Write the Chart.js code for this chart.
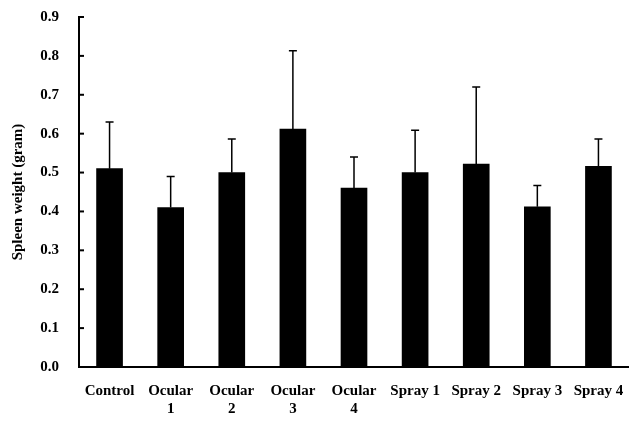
<!DOCTYPE html>
<html>
<head>
<meta charset="utf-8">
<script src="https://cdn.jsdelivr.net/npm/chart.js@4/dist/chart.umd.min.js"></script>
<style>
  html, body { margin: 0; padding: 0; background: #fff; }
  #wrap { width: 629px; height: 421px; position: relative; }
</style>
</head>
<body>
<div id="wrap"><canvas id="myChart"></canvas></div>
<script>
// Spleen weight per group, mean and mean + SD
const groups = [
  'Control', ['Ocular', '1'], ['Ocular', '2'], ['Ocular', '3'], ['Ocular', '4'],
  'Spray 1', 'Spray 2', 'Spray 3', 'Spray 4'
];
const meanWeight = [0.51, 0.41, 0.50, 0.612, 0.46, 0.50, 0.522, 0.412, 0.516];
const upperError = [0.63, 0.49, 0.586, 0.813, 0.54, 0.609, 0.72, 0.467, 0.586];
const yTicks = [0, 0.1, 0.2, 0.3, 0.4, 0.5, 0.6, 0.7, 0.8, 0.9];

const serif = 'Liberation Serif, Times New Roman, serif';

// error bars (upper whisker only) + small inward ticks on the y axis
const extras = {
  id: 'extras',
  afterDatasetsDraw(chart) {
    const c = chart.ctx;
    const y = chart.scales.y;
    const bars = chart.getDatasetMeta(0).data;
    c.save();
    c.strokeStyle = '#000';
    c.lineWidth = 1.5;
    bars.forEach((bar, i) => {
      const yTop = y.getPixelForValue(upperError[i]);
      const yBar = y.getPixelForValue(meanWeight[i]);
      c.beginPath();
      c.moveTo(bar.x, yBar);
      c.lineTo(bar.x, yTop);
      c.moveTo(bar.x - 4, yTop);
      c.lineTo(bar.x + 4, yTop);
      c.stroke();
    });
    c.lineWidth = 2;
    const left = chart.chartArea.left;
    yTicks.forEach(v => {
      const py = y.getPixelForValue(v);
      c.beginPath();
      c.moveTo(left, py);
      c.lineTo(left + 5, py);
      c.stroke();
    });
    c.restore();
  }
};

const config = {
  type: 'bar',
  data: {
    labels: groups,
    datasets: [
      {
        data: meanWeight,
        backgroundColor: '#000',
        barThickness: 26
      }
    ]
  },
  options: {
    responsive: true,
    maintainAspectRatio: false,
    animation: false,
    layout: { padding: { top: 17, right: 0, left: 0, bottom: 0 } },
    plugins: {
      legend: { display: false },
      tooltip: { enabled: false }
    },
    scales: {
      x: {
        grid: { display: false, drawTicks: false },
        border: { display: true, color: '#000', width: 2 },
        ticks: {
          color: '#000',
          padding: 15,
          maxRotation: 0,
          autoSkip: false,
          font: { family: serif, size: 15, weight: 'bold' }
        },
        afterFit: s => {
          s.height = 54;
          s.paddingLeft = 0;
          s.paddingRight = 0;
        }
      },
      y: {
        min: 0,
        max: 0.9,
        grid: { display: false, drawTicks: false },
        border: { display: true, color: '#000', width: 2 },
        afterBuildTicks: s => { s.ticks = yTicks.map(v => ({ value: v })); },
        ticks: {
          color: '#000',
          padding: 20,
          callback: v => v.toFixed(1),
          font: { family: serif, size: 15, weight: 'bold' }
        },
        title: {
          display: true,
          text: 'Spleen weight (gram)',
          color: '#000',
          padding: { top: 9, bottom: 0 },
          font: { family: serif, size: 15, weight: 'bold' }
        },
        afterFit: s => {
          s.width = 79;
          s.paddingTop = 0;
          s.paddingBottom = 0;
        }
      }
    }
  },
  plugins: [extras]
};

const ctx = document.getElementById('myChart');
const myChart = new Chart(ctx, config);
</script>
</body>
</html>
